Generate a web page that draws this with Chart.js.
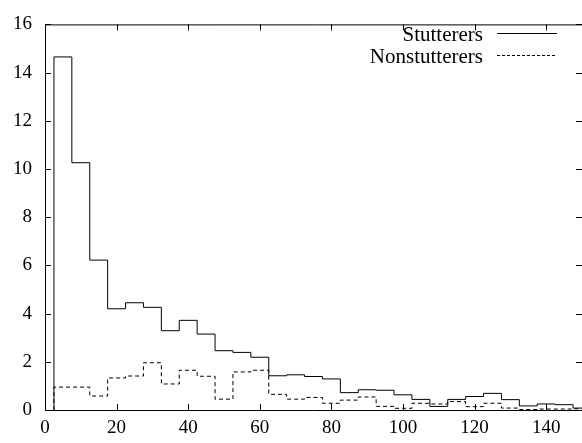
<!DOCTYPE html>
<html>
<head>
<meta charset="utf-8">
<script src="https://cdn.jsdelivr.net/npm/chart.js@4"></script>
<style>
html,body{margin:0;padding:0;background:#fff;}
#wrap{width:582px;height:443px;}
</style>
</head>
<body>
<div id="wrap"><canvas id="c" width="582" height="443"></canvas></div>
<script>
// ---- data ----
const binStart = 2.5;
const binWidth = 5;
const stutterers = [14.65, 10.26, 6.22, 4.2, 4.45, 4.26, 3.29, 3.72, 3.15, 2.46,
  2.39, 2.19, 1.42, 1.46, 1.39, 1.29, 0.72, 0.84, 0.82, 0.63,
  0.44, 0.15, 0.44, 0.56, 0.69, 0.43, 0.17, 0.25, 0.22, 0.08];
const nonstutterers = [0.95, 0.95, 0.58, 1.33, 1.41, 1.96, 1.08, 1.65, 1.40, 0.45,
  1.58, 1.65, 0.65, 0.45, 0.52, 0.28, 0.41, 0.54, 0.15, 0.07,
  0.28, 0.25, 0.35, 0.14, 0.28, 0.08, 0.02, 0.04, 0.04, 0.05];
const xTicks = [0, 20, 40, 60, 80, 100, 120, 140];
const yTicks = [0, 2, 4, 6, 8, 10, 12, 14, 16];
const seriesNames = ['Stutterers', 'Nonstutterers'];

function stepPoints(vals) {
  const pts = [{x: binStart, y: 0}];
  vals.forEach((v, i) => pts.push({x: binStart + i * binWidth, y: v}));
  pts.push({x: binStart + vals.length * binWidth, y: vals[vals.length - 1]});
  return pts;
}

const FONT = '"Liberation Serif", "Times New Roman", serif';

const framePlugin = {
  id: 'frame',
  afterDatasetsDraw(chart) {
    const {ctx, chartArea: a, scales} = chart;
    ctx.save();
    ctx.strokeStyle = '#000';
    ctx.lineWidth = 1;
    ctx.beginPath();
    ctx.moveTo(a.left + 0.5, a.top + 0.5);
    ctx.lineTo(a.left + 0.5, a.bottom + 0.5);
    ctx.lineTo(a.right, a.bottom + 0.5);
    ctx.moveTo(a.left + 0.5, a.top + 0.5);
    ctx.lineTo(a.right, a.top + 0.5);
    const L = 6;
    xTicks.forEach(t => {
      const px = Math.round(scales.x.getPixelForValue(t)) + 0.5;
      ctx.moveTo(px, a.bottom); ctx.lineTo(px, a.bottom - L);
      ctx.moveTo(px, a.top); ctx.lineTo(px, a.top + L);
    });
    yTicks.forEach(t => {
      const py = Math.round(scales.y.getPixelForValue(t)) + 0.5;
      ctx.moveTo(a.left, py); ctx.lineTo(a.left + L, py);
      ctx.moveTo(a.right, py); ctx.lineTo(a.right - L, py);
    });
    ctx.stroke();
    // legend
    ctx.font = '21px ' + FONT;
    ctx.fillStyle = '#000';
    ctx.textAlign = 'right';
    ctx.textBaseline = 'alphabetic';
    const rows = [{y: 33.5, dash: []}, {y: 55.5, dash: [3, 2]}];
    rows.forEach((r, i) => {
      ctx.fillText(seriesNames[i], 483, r.y + 7);
      ctx.beginPath();
      ctx.setLineDash(r.dash);
      ctx.moveTo(497, r.y);
      ctx.lineTo(557, r.y);
      ctx.stroke();
    });
    ctx.setLineDash([]);
    ctx.restore();
  }
};

new Chart(document.getElementById('c'), {
  type: 'line',
  data: {
    datasets: [
      {label: seriesNames[0], data: stepPoints(stutterers), stepped: 'before',
       borderColor: '#000', borderWidth: 1, pointRadius: 0, fill: false},
      {label: seriesNames[1], data: stepPoints(nonstutterers), stepped: 'before',
       borderColor: '#000', borderWidth: 1, borderDash: [4, 3], pointRadius: 0, fill: false}
    ]
  },
  options: {
    responsive: false,
    animation: false,
    layout: {padding: {top: 16, right: 0, left: 0, bottom: 0}},
    plugins: {legend: {display: false}, tooltip: {enabled: false}},
    scales: {
      x: {
        type: 'linear', min: 0, max: 150,
        afterBuildTicks: s => { s.ticks = xTicks.map(v => ({value: v})); },
        afterFit: s => { s.height = 33; },
        grid: {display: false, drawTicks: false},
        border: {display: false},
        ticks: {color: '#000', font: {family: FONT, size: 19}, padding: 7, maxRotation: 0, autoSkip: false}
      },
      y: {
        type: 'linear', min: 0, max: 16,
        afterBuildTicks: s => { s.ticks = yTicks.map(v => ({value: v})); },
        afterFit: s => { s.width = 45; },
        grid: {display: false, drawTicks: false},
        border: {display: false},
        ticks: {color: '#000', font: {family: FONT, size: 19}, padding: 13, autoSkip: false}
      }
    }
  },
  plugins: [framePlugin]
});
</script>
</body>
</html>
